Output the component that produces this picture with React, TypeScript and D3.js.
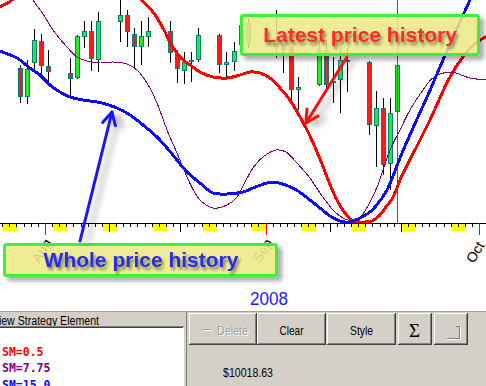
import React from 'react';
import * as d3 from 'd3';

const W = 486;
const H = 386;

// ---- candles (daily, Jul 28 – Sep 19 2008) ----
const candleDates = [
  '2008-07-28', '2008-07-29', '2008-07-30', '2008-07-31', '2008-08-01',
  '2008-08-04', '2008-08-05', '2008-08-06', '2008-08-07', '2008-08-08',
  '2008-08-11', '2008-08-12', '2008-08-13', '2008-08-14', '2008-08-15',
  '2008-08-18', '2008-08-19', '2008-08-20', '2008-08-21', '2008-08-22',
  '2008-08-25', '2008-08-26', '2008-08-27', '2008-08-28', '2008-08-29',
  '2008-09-02', '2008-09-03', '2008-09-04', '2008-09-05',
  '2008-09-08', '2008-09-09', '2008-09-10', '2008-09-11', '2008-09-12',
  '2008-09-15', '2008-09-16', '2008-09-17', '2008-09-18', '2008-09-19',
];
const candleOpen = [
  1266, 1251.5, 1268.5, 1279.5, 1267,
  1263.5, 1261, 1281.5, 1284.5, 1270,
  1289, 1292.5, 1283, 1276.5, 1281.5,
  1284.5, 1273, 1264.5, 1269, 1270,
  1282.5, 1267.5, 1269, 1277.5, 1278.5,
  1278.5, 1277.5, 1276.5, 1255,
  1257.5, 1275, 1258.5, 1260, 1270,
  1269, 1237, 1246, 1218, 1244,
];
const candleHigh = [
  1267.5, 1270, 1285.5, 1283, 1275,
  1271, 1282.5, 1289.5, 1289.5, 1294,
  1301, 1295, 1286, 1289.5, 1291.5,
  1289.5, 1275, 1274, 1274, 1286,
  1283, 1274, 1279, 1291, 1291,
  1295, 1278, 1277, 1261.5,
  1280, 1280, 1271.5, 1276.5, 1276,
  1269.5, 1254.5, 1251, 1251, 1269,
];
const candleLow = [
  1248.5, 1248, 1264, 1263, 1258.5,
  1252, 1260.5, 1276, 1264.5, 1264,
  1279, 1276.5, 1266, 1267.5, 1276.5,
  1268.5, 1258.5, 1258, 1259, 1269,
  1263.5, 1260.5, 1264.5, 1275, 1276,
  1271, 1263.5, 1250, 1245,
  1257, 1254, 1248.5, 1243.5, 1254,
  1232.5, 1216.5, 1212.5, 1205, 1242,
];
const candleClose = [
  1251.5, 1265.5, 1280, 1267, 1264,
  1260.5, 1282, 1284.5, 1270.5, 1289.5,
  1292.5, 1284, 1276.5, 1282, 1284.5,
  1273.5, 1265.5, 1269, 1270, 1282.5,
  1267.5, 1269, 1274.5, 1287.5, 1288.5,
  1276, 1275, 1255, 1256.5,
  1275, 1257.5, 1259.5, 1270, 1270,
  1237.5, 1246, 1217.5, 1243.5, 1267.5,
];

// ---- smoothed curves: [days after Jul 28 2008, price] ----
const sm05: [number, number][] = [
  [-3.0, 1295], [-2.31, 1296.5], [-0.62, 1300], [1.9, 1310], [6.1, 1322], [11.7, 1322],
  [15.9, 1308], [17.64, 1300], [19.18, 1294], [20.58, 1286], [21.57, 1279], [22.97, 1271.5],
  [24.38, 1267.5], [25.78, 1264], [27.61, 1261.5], [29.57, 1261], [31.4, 1262.5], [32.8, 1264],
  [34.21, 1263.5], [35.61, 1261], [37.02, 1256], [38.42, 1250], [39.83, 1241.5], [41.23, 1232],
  [42.64, 1220.5], [44.18, 1206.5], [45.02, 1200], [46.15, 1193.5], [47.27, 1189.5], [48.25, 1189],
  [49.94, 1189.5], [51.06, 1192.5], [51.9, 1196.5], [52.75, 1200.5], [53.34, 1205], [53.87, 1210],
  [55.27, 1220], [58.08, 1240], [60.89, 1261.5], [62.72, 1271.5], [64.54, 1278.5], [66.2, 1282],
];
const sm775: [number, number][] = [
  [0.5, 1312], [2.33, 1300], [3.73, 1293], [5.13, 1285], [7.1, 1276.5], [8.5, 1271.5],
  [9.91, 1269.5], [11.74, 1268.5], [13.56, 1269], [15.53, 1268], [16.93, 1265], [18.34, 1258.5],
  [19.74, 1248.5], [21.15, 1235], [22.55, 1223.5], [23.96, 1211.5], [24.84, 1205], [25.78, 1200],
  [27.61, 1196], [29.57, 1197.5], [30.98, 1201.5], [31.82, 1207], [33.23, 1216], [34.63, 1221.5],
  [36.45, 1225], [37.86, 1224], [39.26, 1219], [41.23, 1211], [42.35, 1205], [43.34, 1200],
  [44.74, 1194], [46.15, 1190.5], [47.55, 1189.5], [48.67, 1193], [49.8, 1200], [50.78, 1207.5],
  [52.47, 1225], [53.87, 1235], [55.27, 1245], [57.1, 1255], [58.5, 1261], [60.89, 1264],
  [63.7, 1261], [66.2, 1260],
];
const sm15: [number, number][] = [
  [-2.73, 1275.5], [-2.31, 1274.5], [0.08, 1271], [1.9, 1266], [3.31, 1262.5], [4.71, 1257.5],
  [6.12, 1254], [7.52, 1251.5], [9.35, 1250], [11.74, 1248.75], [14.12, 1246], [15.95, 1242.5],
  [17.78, 1237.5], [19.74, 1231.5], [21.15, 1226], [22.55, 1220], [23.96, 1214], [25.78, 1208.5],
  [27.61, 1203.5], [29.58, 1203], [31.83, 1204], [33.93, 1207], [36.03, 1209], [38.14, 1207],
  [39.54, 1204.5], [41.23, 1200], [42.63, 1196], [44.04, 1192], [45.44, 1189.5], [46.85, 1189],
  [48.25, 1191], [49.66, 1194], [50.5, 1197], [52.05, 1205], [53.87, 1221], [55.7, 1236],
  [57.8, 1252.5], [59.49, 1266.5], [61.6, 1283.5], [63.7, 1300], [66.2, 1320],
];

const seriesNames = ['SM=0.5', 'SM=7.75', 'SM=15.0'];
const seriesColors = ['#ff0000', '#800080', '#0a0aff'];
const seriesWidths = [3, 1, 3];
const monthLabels = ['Aug', 'Sep', 'Oct'];
const yearLabel = '2008';
const buttonLabels = ['Delete', 'Clear', 'Style', '\u03A3', ''];
const balanceLabel = '$10018.63';
const panelTitle = 'View Strategy Element';
const noteLatest = 'Latest price history';
const noteWhole = 'Whole price history';
// arrow anchors: [days after Jul 28, price]
const arrowLatest: [number, number][] = [[46.43, 1271.5], [40.67, 1238.5]];
const arrowWhole: [number, number][] = [[8.93, 1179.5], [13.42, 1244]];

const parse = d3.timeParse('%Y-%m-%d');
const base = new Date(2008, 6, 28);
const dayToDate = (t: number) => new Date(base.getTime() + t * 864e5);

const xScale = d3.scaleTime()
  .domain([new Date(2008, 6, 28), new Date(2008, 9, 1)])
  .range([16.44, 479.2]);
const yScale = d3.scaleLinear().domain([1189, 1300]).range([222, 0]);
const axisY = 223;
const dayW = xScale(new Date(2008, 6, 29)) - xScale(new Date(2008, 6, 28));

const px = (p: [number, number]) => [xScale(dayToDate(p[0])), yScale(p[1])];

function Arrow({ pts, color }: { pts: [number, number][]; color: string }) {
  const [x0, y0] = px(pts[0]);
  const [x1, y1] = px(pts[1]);
  const ang = Math.atan2(y0 - y1, x0 - x1);
  const L = 14;
  const spread = (28 * Math.PI) / 180;
  const b1 = [x1 + L * Math.cos(ang + spread), y1 + L * Math.sin(ang + spread)];
  const b2 = [x1 + L * Math.cos(ang - spread), y1 + L * Math.sin(ang - spread)];
  return (
    <g filter="url(#arrowShadow)" stroke={color} strokeWidth={3} fill="none" strokeLinecap="round" strokeLinejoin="round">
      <line x1={x0} y1={y0} x2={x1} y2={y1} />
      <polyline points={`${b1[0]},${b1[1]} ${x1},${y1} ${b2[0]},${b2[1]}`} />
    </g>
  );
}

function Button({ x, w, children }: { x: number; w: number; children?: React.ReactNode }) {
  const y = 313;
  const h = 32;
  return (
    <g>
      <rect x={x} y={y} width={w} height={h} fill="#d4d0c8" />
      <line x1={x} x2={x + w - 1} y1={y + 0.5} y2={y + 0.5} stroke="#ffffff" />
      <line x1={x + 0.5} x2={x + 0.5} y1={y} y2={y + h - 1} stroke="#ffffff" />
      <line x1={x} x2={x + w} y1={y + h - 0.5} y2={y + h - 0.5} stroke="#404040" />
      <line x1={x + 1} x2={x + w - 1} y1={y + h - 1.5} y2={y + h - 1.5} stroke="#808080" />
      <line x1={x + w - 0.5} x2={x + w - 0.5} y1={y} y2={y + h} stroke="#404040" />
      <line x1={x + w - 1.5} x2={x + w - 1.5} y1={y + 1} y2={y + h - 1} stroke="#808080" />
      {children}
    </g>
  );
}

export default function App() {
  const line = d3.line<[number, number]>()
    .x((d) => xScale(dayToDate(d[0])))
    .y((d) => yScale(d[1]))
    .curve(d3.curveCatmullRom.alpha(0.5));

  const candles = candleDates.map((s, i) => {
    const d = parse(s)!;
    const cx = Math.round(xScale(d3.timeHour.offset(d, 12)));
    return { cx, o: candleOpen[i], h: candleHigh[i], l: candleLow[i], c: candleClose[i] };
  });

  const dStart = d3.timeDay.floor(xScale.invert(0));
  const dEnd = xScale.invert(W);
  const days = d3.timeDay.range(dStart, d3.timeDay.offset(dEnd, 1));
  const monthStarts = days.filter((d) => d.getDate() === 1);
  const lastCx = candles[candles.length - 1].cx;

  const seriesData = [sm05, sm775, sm15];

  return (
    <svg width={W} height={H} style={{ position: 'absolute', left: 0, top: 0, background: '#fff' }}
      fontFamily="'Liberation Sans', Arial, sans-serif">
      <defs>
        <clipPath id="plotClip">
          <rect x={0} y={0} width={W} height={axisY} />
        </clipPath>
        <filter id="boxShadow" x="-10%" y="-30%" width="130%" height="180%">
          <feDropShadow dx="4" dy="4" stdDeviation="2" floodColor="#000" floodOpacity="0.35" />
        </filter>
        <filter id="textShadow" x="-10%" y="-30%" width="130%" height="180%">
          <feDropShadow dx="2" dy="3" stdDeviation="1.6" floodColor="#000" floodOpacity="0.45" />
        </filter>
        <filter id="arrowShadow" x="-50%" y="-50%" width="200%" height="200%">
          <feDropShadow dx="7" dy="3" stdDeviation="3" floodColor="#000" floodOpacity="0.3" />
        </filter>
      </defs>

      <rect x={0} y={0} width={W} height={311} fill="#ffffff" />

      <g clipPath="url(#plotClip)">
        {/* wicks */}
        {candles.map((k, i) => (
          <line key={'w' + i} x1={k.cx + 0.5} x2={k.cx + 0.5} y1={yScale(k.h)} y2={yScale(k.l)}
            stroke="#000" strokeWidth={1} shapeRendering="crispEdges" />
        ))}
        {/* bodies */}
        {candles.map((k, i) => {
          const top = Math.round(yScale(Math.max(k.o, k.c)));
          const bot = Math.round(yScale(Math.min(k.o, k.c)));
          const hgt = Math.max(2, bot - top);
          const up = k.c >= k.o;
          return (
            <g key={'b' + i} shapeRendering="crispEdges">
              <rect x={k.cx - 2} y={top} width={5} height={hgt} fill="#008080" />
              {hgt > 2 && (
                <rect x={k.cx - 1} y={top + 1} width={3} height={hgt - 2} fill={up ? '#22ee22' : '#ff1a1a'} />
              )}
            </g>
          );
        })}
        {/* cursor */}
        <line x1={lastCx + 0.5} x2={lastCx + 0.5} y1={0} y2={axisY} stroke="#008080" shapeRendering="crispEdges" />
        {/* smoothed lines */}
        {seriesData.map((s, i) => (
          <path key={'s' + i} d={line(s) || ''} fill="none" stroke={seriesColors[i]}
            strokeWidth={seriesWidths[i]} strokeLinejoin="round" shapeRendering="crispEdges" />
        ))}
      </g>

      {/* x axis */}
      <g shapeRendering="crispEdges">
        {days.filter((d) => d.getDay() === 6).map((d, i) => (
          <rect key={'we' + i} x={xScale(d) + 1} y={axisY + 1} width={2 * dayW} height={7} fill="#ffff00" />
        ))}
        <line x1={0} x2={W} y1={axisY + 0.5} y2={axisY + 0.5} stroke="#000" />
        {days.map((d, i) => {
          const x = Math.round(xScale(d)) + 0.5;
          const first = d.getDate() === 1;
          const mid = d.getDate() === 10 || d.getDate() === 20;
          return (
            <line key={'t' + i} x1={x} x2={x} y1={axisY} y2={axisY + (first ? 12 : mid ? 9 : 4)}
              stroke={first ? '#ff0000' : '#000'} />
          );
        })}
      </g>
      {monthStarts.map((d, i) => {
        const x = xScale(d) - 5.5;
        const y = 264;
        return (
          <text key={'m' + i} x={x} y={y} fontSize={14} fill="#000" transform={`rotate(-59 ${x} ${y})`}>
            {monthLabels[i]}
          </text>
        );
      })}

      <text x={269} y={305} fontSize={18} fill="#1a1aff" textAnchor="middle" textLength={38} lengthAdjust="spacingAndGlyphs">
        {yearLabel}
      </text>

      {/* annotations */}
      <g filter="url(#boxShadow)">
        <rect x={241.5} y={15.5} width={237} height={39} rx={2} fill="#f2f08a" fillOpacity={0.82}
          stroke="#3cf03c" strokeWidth={3} />
      </g>
      <text x={360} y={42} fontSize={21} fontWeight="bold" fill="#ff2a2a" textAnchor="middle" filter="url(#textShadow)">
        {noteLatest}
      </text>
      <Arrow pts={arrowLatest} color="#ff1010" />

      <g filter="url(#boxShadow)">
        <rect x={4.5} y={244.5} width={272} height={31} rx={2} fill="#f2f08a" fillOpacity={0.85}
          stroke="#3cf03c" strokeWidth={3} />
      </g>
      <Arrow pts={arrowWhole} color="#1414ff" />
      <text x={141} y={267} fontSize={21} fontWeight="bold" fill="#2a2aee" textAnchor="middle" filter="url(#textShadow)">
        {noteWhole}
      </text>

      {/* bottom panel */}
      <rect x={0} y={311} width={W} height={H - 311} fill="#d4d0c8" />
      <line x1={0} x2={W} y1={311.5} y2={311.5} stroke="#a0a0a0" />
      <text x={-8} y={325} fontSize={12.5} fill="#000" textLength={107} lengthAdjust="spacingAndGlyphs">
        {panelTitle}
      </text>
      <g shapeRendering="crispEdges">
        <line x1={0} x2={184} y1={326.5} y2={326.5} stroke="#808080" />
        <line x1={0} x2={183} y1={327.5} y2={327.5} stroke="#404040" />
        <rect x={0} y={328} width={183} height={H - 328} fill="#ffffff" />
        <line x1={183.5} x2={183.5} y1={327} y2={H} stroke="#ffffff" />
        <line x1={186.5} x2={186.5} y1={312} y2={H} stroke="#808080" />
      </g>
      {seriesNames.map((n, i) => (
        <text key={'n' + i} x={2} y={356 + i * 16.3} fontSize={11.5} fontWeight="bold"
          fontFamily="'DejaVu Sans Mono', monospace" fill={seriesColors[i]}>
          {n}
        </text>
      ))}

      <g shapeRendering="crispEdges">
        <Button x={189} w={68}>
          <rect x={202} y={329} width={8} height={1} fill="#a0a0a0" />
          <rect x={203} y={330} width={8} height={1} fill="#ffffff" />
          <text x={218} y={336} fontSize={12.5} fill="#ffffff" textLength={31} lengthAdjust="spacingAndGlyphs">{buttonLabels[0]}</text>
          <text x={217} y={335} fontSize={12.5} fill="#a0a0a0" textLength={31} lengthAdjust="spacingAndGlyphs">{buttonLabels[0]}</text>
        </Button>
        <Button x={257} w={69}>
          <text x={291.5} y={335} fontSize={12.5} fill="#000" textAnchor="middle" textLength={24} lengthAdjust="spacingAndGlyphs">{buttonLabels[1]}</text>
        </Button>
        <Button x={327} w={69}>
          <text x={361.5} y={335} fontSize={12.5} fill="#000" textAnchor="middle" textLength={23} lengthAdjust="spacingAndGlyphs">{buttonLabels[2]}</text>
        </Button>
        <Button x={398} w={34}>
          <text x={414.5} y={337} fontSize={19} fill="#000" textAnchor="middle" fontFamily="'Liberation Serif', serif">{buttonLabels[3]}</text>
        </Button>
        <Button x={434} w={34}>
          <polyline points="447,338.5 459.5,338.5 459.5,326.5 456,326.5" fill="none" stroke="#808080" />
          <polyline points="447,339.5 460.5,339.5 460.5,327" fill="none" stroke="#ffffff" />
        </Button>
      </g>
      <text x={223} y={377} fontSize={12.5} fill="#000" textLength={50} lengthAdjust="spacingAndGlyphs">{balanceLabel}</text>
    </svg>
  );
}
